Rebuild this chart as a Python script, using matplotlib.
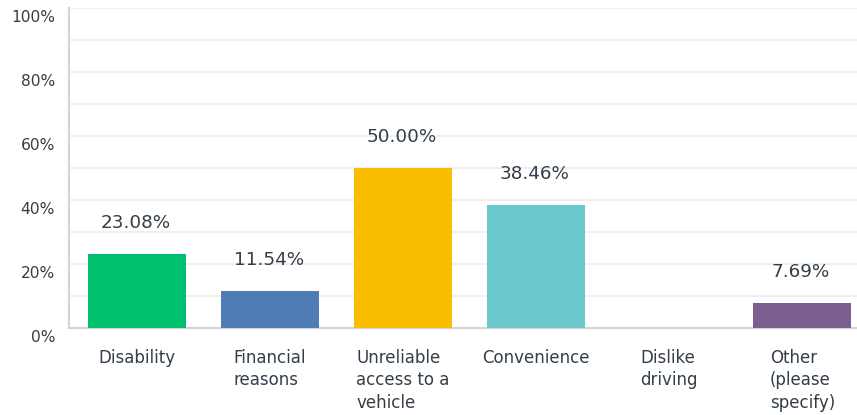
import numpy as np
import matplotlib.pyplot as plt
import matplotlib.transforms as mtransforms

# answer categories and share of respondents (%)
categorias = ['Disability', 'Financial\nreasons', 'Unreliable\naccess to a\nvehicle',
              'Convenience', 'Dislike\ndriving', 'Other\n(please\nspecify)']
valores = [23.08, 11.54, 50.00, 38.46, 0.0, 7.69]
cores = ['#00bf6f', '#507cb6', '#f9be00', '#6bc8cd', '#7d5e90', '#7d5e90']

plt.rcParams['font.family'] = ['DejaVu Sans']
cor_texto = '#333e48'

fig = plt.figure(figsize=(8.57, 4.15), dpi=100)
ax = fig.add_axes([0.0805, 0.2096, 0.9195, 0.771])

x = np.arange(len(categorias))
largura = 0.737
ax.bar(x, valores, width=largura, color=cores, zorder=3)

ax.set_xlim(-0.511, 5.41)
ax.set_ylim(0, 100)
ax.set_yticks(np.arange(0, 101, 20))
ax.set_yticklabels(['%d%%' % v for v in range(0, 101, 20)])
ax.set_yticks(np.arange(10, 100, 20), minor=True)
ax.grid(axis='y', which='both', color='#ececec', linewidth=1.2, zorder=0)
ax.tick_params(axis='y', which='both', length=0, pad=10, labelsize=11.2, labelcolor=cor_texto)
# shift the percent labels slightly below their gridline
off = mtransforms.ScaledTranslation(0, -8 / 100, fig.dpi_scale_trans)
for lbl in ax.get_yticklabels():
    lbl.set_transform(lbl.get_transform() + off)

ax.set_xticks([])
for lado in ['top', 'right']:
    ax.spines[lado].set_visible(False)
ax.spines['left'].set_color('#d3d3d3')
ax.spines['bottom'].set_color('#d3d3d3')
ax.spines['left'].set_linewidth(1.5)
ax.spines['bottom'].set_linewidth(1.5)

# category names: block centred under the bar, lines left aligned
for i, nome in enumerate(categorias):
    ax.annotate(nome, xy=(i, 0), xytext=(0, -15),
                textcoords='offset points', ha='center', va='top',
                multialignment='left', fontsize=12, color=cor_texto,
                linespacing=1.33)

# value labels above the bars
for i, v in enumerate(valores):
    if v == 0:
        continue
    ax.annotate('%.2f%%' % v, xy=(i, v), xytext=(-1, 18.7),
                textcoords='offset points', ha='center', va='baseline',
                fontsize=13.2, color=cor_texto)

fig.savefig('out.png', dpi=100)
